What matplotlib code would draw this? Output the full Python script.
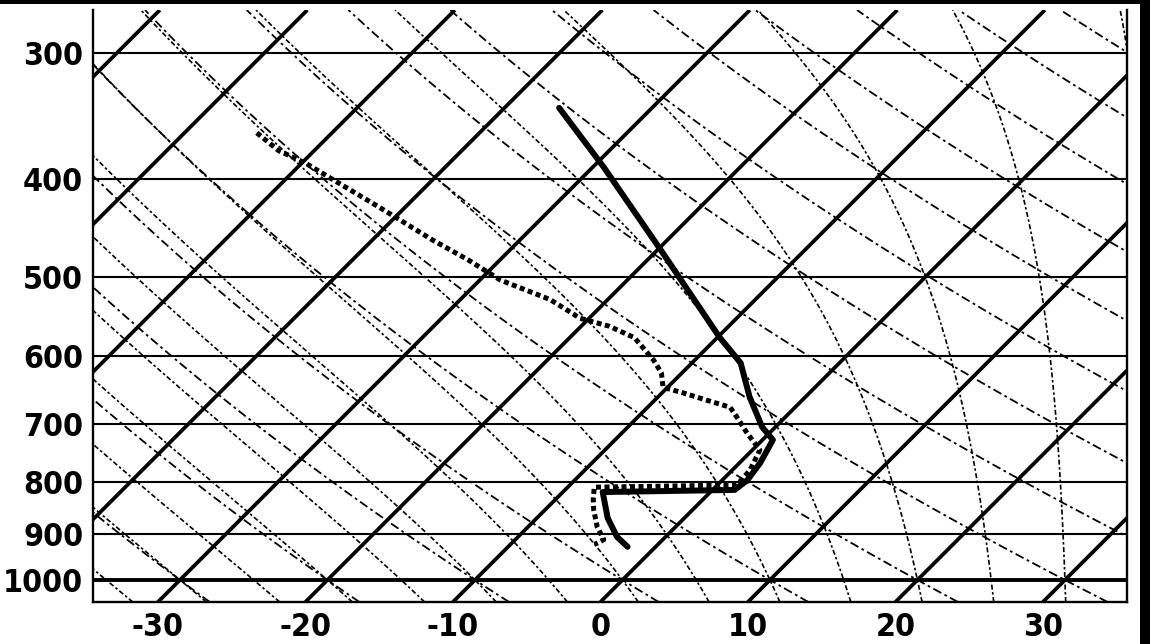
import numpy as np
import matplotlib
matplotlib.use("Agg")
import matplotlib.pyplot as plt
from matplotlib.patches import Rectangle

# ---------------- data ----------------
temp_p = [340, 389, 474, 574, 609, 658, 705, 726, 765, 796, 814, 818, 868, 906, 927]
temp_c = [-36.3, -29.3, -19.4, -9.9, -6.7, -3.8, -0.9, 0.7, 1.4, 1.7, 1.5, -7.3, -5.2, -3.3, -1.9]

dewp_p = [360, 375, 386, 404, 427, 460, 481, 504, 519, 527, 550, 560, 575,
          605, 623, 644, 652, 663, 674, 689, 715, 743, 778, 800, 805,
          809, 833, 852, 886, 912, 922]
dewp_c = [-55.1, -52.4, -49.7, -46.1, -41.7, -35.9, -32.2, -28.6, -25.5, -23.9, -20.6, -18.1, -15.6,
          -12.8, -11.4, -10.3, -8.6, -6.5, -4.4, -3.3, -1.5, 0.5, 1.2, 1.3, 1.2,
          -8.2, -7.4, -6.7, -5.3, -4.0, -4.3]

isobars = [300, 400, 500, 600, 700, 800, 900, 1000]
isobar_labels = ["300", "400", "500", "600", "700", "800", "900", "1000"]
isotherms = list(range(-120, 50, 10))
dry_thetas = list(range(-40, 130, 10))          # potential temperature (deg C at 1000 hPa)
moist_thetas = list(range(-35, 40, 5))          # wet-bulb potential temperature (deg C)
xticks = [-30, -20, -10, 0, 10, 20, 30]
xtick_labels = ["-30", "-20", "-10", "0", "10", "20", "30"]

# ---------------- diagram geometry ----------------
P_BOT, P_TOP = 1051.6, 271.9
SKEW = 29.67            # deg C per unit ln(p)
X_MIN, X_MAX = -34.4, 35.7


def skew_x(t, p):
    return np.asarray(t, float) + SKEW * np.log(P_BOT / np.asarray(p, float))


Rd, Cp, Lv, EPS = 287.04, 1005.7, 2.501e6, 0.622


def dTdp(Tk, p):
    es = 6.112 * np.exp(17.67 * (Tk - 273.15) / (Tk - 29.65))
    rs = EPS * es / (p - es)
    num = Rd * Tk + Lv * rs
    den = Cp + (Lv * Lv * rs * EPS) / (Rd * Tk * Tk)
    return num / den / p


def moist_branch(T0c, plev):
    T = T0c + 273.15
    out = [T]
    for i in range(len(plev) - 1):
        p0, p1 = plev[i], plev[i + 1]
        h = p1 - p0
        k1 = dTdp(T, p0)
        k2 = dTdp(T + 0.5 * h * k1, p0 + 0.5 * h)
        k3 = dTdp(T + 0.5 * h * k2, p0 + 0.5 * h)
        k4 = dTdp(T + h * k3, p1)
        T = T + h / 6 * (k1 + 2 * k2 + 2 * k3 + k4)
        out.append(T)
    return np.array(out) - 273.15


fig = plt.figure(figsize=(11.5, 6.44), dpi=100)
fig.patch.set_facecolor("white")
ax = fig.add_axes([93 / 1150, (644 - 602) / 644, (1127 - 93) / 1150, (602 - 10) / 644])
ax.set_yscale("log")
ax.set_ylim(P_BOT, P_TOP)
ax.set_xlim(X_MIN, X_MAX)

pp = np.geomspace(P_BOT, P_TOP, 300)

# isobars
for p in isobars:
    ax.axhline(p, color="black", lw=2.8 if p == 1000 else 1.5, zorder=2)

# isotherms
for t in isotherms:
    ax.plot(skew_x(np.full_like(pp, t), pp), pp, color="black", lw=2.7,
            solid_capstyle="butt", zorder=3)

# dry adiabats
for th in dry_thetas:
    tk = (th + 273.15) * (pp / 1000.0) ** (Rd / Cp) - 273.15
    ax.plot(skew_x(tk, pp), pp, color="black", lw=1.3,
            linestyle=(0, (5, 2, 1.5, 2)), zorder=2)

# moist adiabats
p_up = np.linspace(1000, P_TOP, 400)
p_dn = np.linspace(1000, P_BOT, 30)
for tw in moist_thetas:
    up = moist_branch(tw, p_up)
    dn = moist_branch(tw, p_dn)
    pm = np.concatenate([p_dn[::-1], p_up[1:]])
    tm = np.concatenate([dn[::-1], up[1:]])
    ax.plot(skew_x(tm, pm), pm, color="black", lw=1.2,
            linestyle=(0, (3, 1.5, 1.5, 1.5)), zorder=2)

# sounding
ax.plot(skew_x(temp_c, temp_p), temp_p, color="black", lw=4.3,
        solid_joinstyle="round", solid_capstyle="round", zorder=5)
ax.plot(skew_x(dewp_c, dewp_p), dewp_p, color="black", lw=3.6,
        linestyle=(0, (1, 0.7)), zorder=5)

# axes styling
ax.set_yticks(isobars)
ax.set_yticklabels(isobar_labels)
ax.yaxis.set_minor_locator(matplotlib.ticker.NullLocator())
ax.set_xticks(xticks)
ax.set_xticklabels(xtick_labels)
ax.tick_params(length=0, labelsize=23, pad=7)
for lab in ax.get_xticklabels() + ax.get_yticklabels():
    lab.set_fontweight("bold")
    lab.set_family("DejaVu Sans")
    lab.set_fontstretch("condensed")
ax.spines["top"].set_visible(False)
for s in ("left", "right", "bottom"):
    ax.spines[s].set_linewidth(1.7)

# black frame pieces of the original screenshot
fig.add_artist(Rectangle((0, 1 - 4 / 644), 1, 4 / 644, transform=fig.transFigure,
                         facecolor="black", edgecolor="none", zorder=10))
fig.add_artist(Rectangle((1140 / 1150, 0), 10 / 1150, 1, transform=fig.transFigure,
                         facecolor="black", edgecolor="none", zorder=10))

fig.savefig("out.png", dpi=100, facecolor="white")
